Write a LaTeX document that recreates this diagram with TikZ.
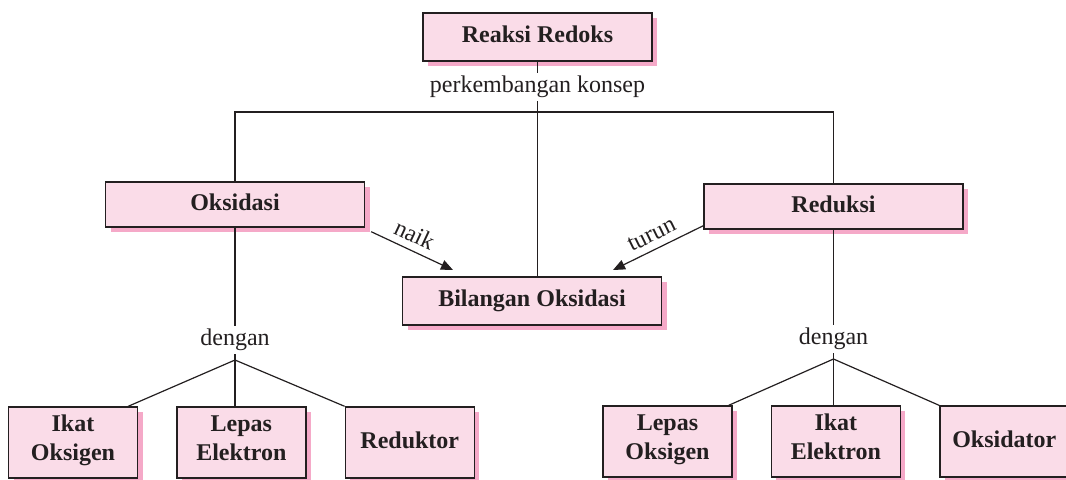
\documentclass[tikz,border=0pt]{standalone}
\usepackage{fontspec}
\setmainfont{Liberation Serif}
\usepackage{xcolor}
\usepackage{tikz}
\usetikzlibrary{arrows.meta, positioning, shadows}
\definecolor{boxfill}{HTML}{FADCE8}
\definecolor{boxshade}{HTML}{F5A9C8}
\definecolor{ink}{HTML}{231F20}

\begin{document}
\begin{tikzpicture}[
  x=0.5pt, y=-0.5pt,
  node distance=19pt,
  font=\fontsize{12}{14.5}\selectfont,
  concept/.style={draw=ink, line width=0.7pt, fill=boxfill, text=ink, align=center, inner sep=2pt,
    font=\fontsize{12}{14.5}\selectfont\bfseries,
    execute at begin node=\strut, execute at end node=\strut,
    drop shadow={shadow xshift=2.5pt, shadow yshift=-2.5pt, fill=boxshade, opacity=1}},
  wide/.style={concept, minimum width=129.5pt, minimum height=22.5pt},
  leaf/.style={concept, minimum width=64.5pt, minimum height=35.5pt},
  link/.style={line width=0.6pt, draw=ink},
  word/.style={inner sep=1.5pt, text=ink},
  push/.style={link, -{Triangle[length=6pt, width=5pt]}}
]
\useasboundingbox (0,0) rectangle (1066,479);

% main concepts
\node[concept, minimum width=114.5pt, minimum height=24pt] (redoks) at (537.5,37) {Reaksi Redoks};
\node[wide] (oksidasi) at (235,204.5) {Oksidasi};
\node[wide] (reduksi) at (833.5,206.5) {Reduksi};
\node[wide, minimum height=24pt] (bilangan) at (532,301) {Bilangan Oksidasi};

% linking words
\node[word] (konsep) at (537.5,87) {perkembangan konsep};
\node[word] (dengan1) at (235,340) {dengan};
\node[word] (dengan2) at (833.5,339) {dengan};
\coordinate (hub) at (537.5,112);
\coordinate (fork1) at (235,360);
\coordinate (fork2) at (833.5,359);

% leaves
\node[leaf] (ikatoks) at (73,442.5) {Ikat\\Oksigen};
\node[leaf, right=of ikatoks] (lepasel) {Lepas\\Elektron};
\node[leaf, right=of lepasel] (reduktor) {Reduktor};
\node[leaf] (lepasoks) at (667.5,441.5) {Lepas\\Oksigen};
\node[leaf, right=of lepasoks] (ikatel) {Ikat\\Elektron};
\node[leaf, right=of ikatel] (oksidator) {Oksidator};

% tree
\draw[link] (redoks) -- (konsep);
\draw[link] (konsep) -- (hub);
\draw[link] (hub) -- (hub |- bilangan.north);
\draw[link] (oksidasi.north) |- (hub) -| (reduksi.north);

\draw[link] (oksidasi) -- (dengan1);
\draw[link] (dengan1) -- (fork1);
\draw[link] (fork1) -- ([xshift=-5pt]ikatoks.north east);
\draw[link] (fork1) -- (fork1 |- lepasel.north);
\draw[link] (fork1) -- (reduktor.north west);

\draw[link] (reduksi) -- (dengan2);
\draw[link] (dengan2) -- (fork2);
\draw[link] (fork2) -- ([xshift=-2pt]lepasoks.north east);
\draw[link] (fork2) -- (fork2 |- ikatel.north);
\draw[link] (fork2) -- (oksidator.north west);

% oxidation number
\coordinate (naiktip) at (453,270);
\coordinate (turuntip) at (613,270);
\draw[push] ([xshift=3pt, yshift=-2pt]oksidasi.south east) -- node[word, sloped, above=2pt, pos=0.45] (naik) {naik} (naiktip);
\draw[push] ([yshift=2pt]reduksi.south west) -- node[word, sloped, above=2pt, pos=0.5] (turun) {turun} (turuntip);
\end{tikzpicture}
\end{document}
